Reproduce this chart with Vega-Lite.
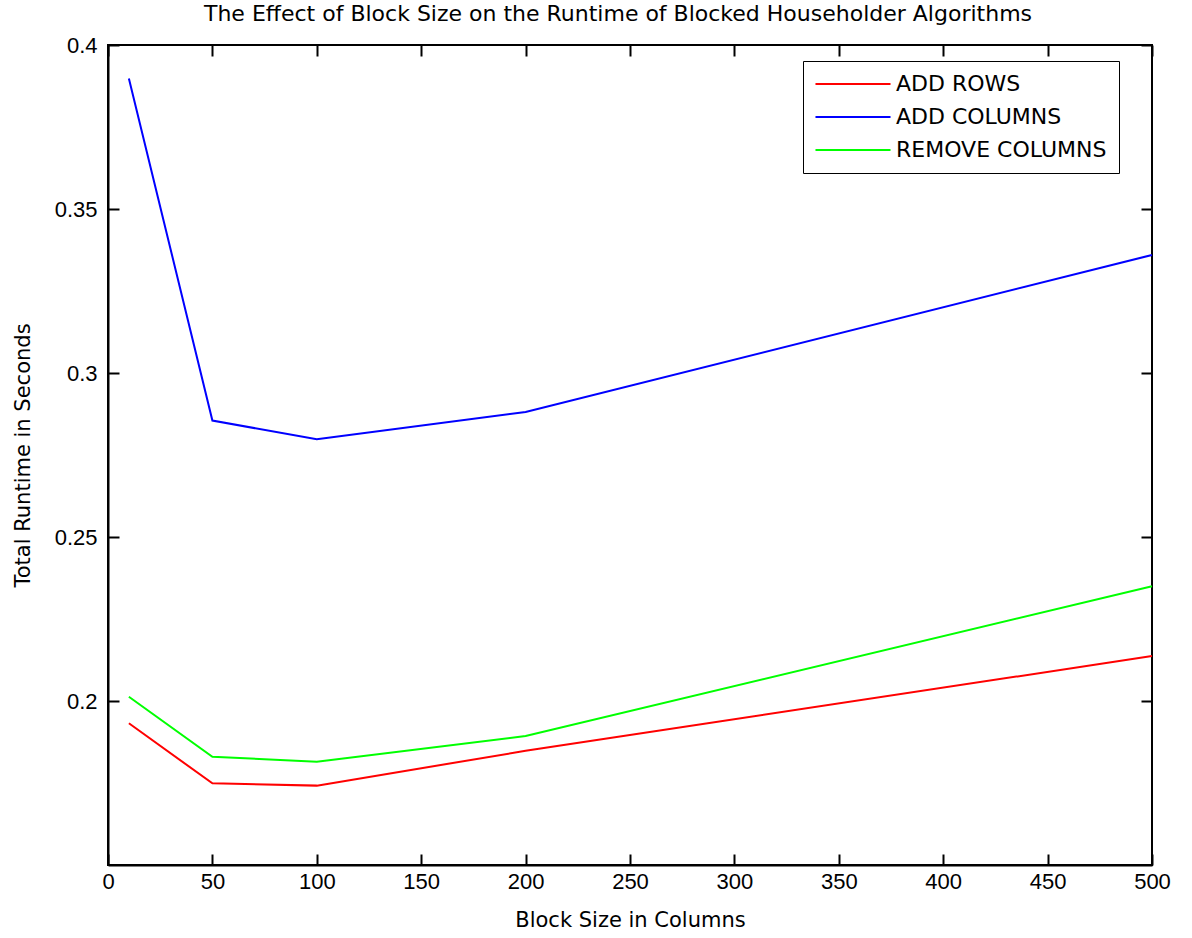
{
  "$schema": "https://vega.github.io/schema/vega-lite/v6.json",
  "autosize": "none",
  "width": 1044,
  "height": 820,
  "padding": {"left": 108, "top": 45, "right": 40, "bottom": 73},
  "background": "white",
  "title": {
    "text": "The Effect of Block Size on the Runtime of Blocked Householder Algorithms",
    "font": "DejaVu Sans",
    "fontSize": 22,
    "fontWeight": "normal",
    "color": "black",
    "anchor": "middle",
    "offset": 8,
    "dx": -12
  },
  "config": {
    "view": {"stroke": "black", "strokeWidth": 2},
    "axis": {
      "domainColor": "black",
      "domainWidth": 2,
      "tickColor": "black",
      "tickWidth": 2,
      "tickSize": -11,
      "grid": false,
      "labelFont": "Liberation Sans",
      "labelFontSize": 22,
      "labelColor": "black",
      "titleFont": "DejaVu Sans",
      "titleFontSize": 21,
      "titleFontWeight": "normal",
      "titleColor": "black"
    }
  },
  "data": {
    "values": [
      {"block": 10, "runtime": 0.1932, "series": "ADD ROWS"},
      {"block": 50, "runtime": 0.1749, "series": "ADD ROWS"},
      {"block": 100, "runtime": 0.1742, "series": "ADD ROWS"},
      {"block": 200, "runtime": 0.1848, "series": "ADD ROWS"},
      {"block": 500, "runtime": 0.2137, "series": "ADD ROWS"},
      {"block": 10, "runtime": 0.3898, "series": "ADD COLUMNS"},
      {"block": 50, "runtime": 0.2855, "series": "ADD COLUMNS"},
      {"block": 100, "runtime": 0.2798, "series": "ADD COLUMNS"},
      {"block": 200, "runtime": 0.2881, "series": "ADD COLUMNS"},
      {"block": 500, "runtime": 0.336, "series": "ADD COLUMNS"},
      {"block": 10, "runtime": 0.2013, "series": "REMOVE COLUMNS"},
      {"block": 50, "runtime": 0.183, "series": "REMOVE COLUMNS"},
      {"block": 100, "runtime": 0.1815, "series": "REMOVE COLUMNS"},
      {"block": 200, "runtime": 0.1893, "series": "REMOVE COLUMNS"},
      {"block": 500, "runtime": 0.235, "series": "REMOVE COLUMNS"}
    ]
  },
  "layer": [
    {
      "mark": {"type": "line", "strokeWidth": 2},
      "encoding": {
        "x": {
          "field": "block",
          "type": "quantitative",
          "scale": {"domain": [0, 500], "nice": false, "zero": false},
          "axis": {
            "values": [0, 50, 100, 150, 200, 250, 300, 350, 400, 450, 500],
            "title": "Block Size in Columns",
            "titlePadding": 17,
            "labelPadding": 17,
            "labelFlush": false
          }
        },
        "y": {
          "field": "runtime",
          "type": "quantitative",
          "scale": {"domain": [0.15, 0.4], "nice": false, "zero": false},
          "axis": {
            "values": [0.2, 0.25, 0.3, 0.35, 0.4],
            "format": ".2~f",
            "title": "Total Runtime in Seconds",
            "titlePadding": 21,
            "labelPadding": 22,
            "labelFlush": false
          }
        },
        "color": {
          "field": "series",
          "type": "nominal",
          "sort": ["ADD ROWS", "ADD COLUMNS", "REMOVE COLUMNS"],
          "scale": {
            "domain": ["ADD ROWS", "ADD COLUMNS", "REMOVE COLUMNS"],
            "range": ["#ff0000", "#0000ff", "#00ff00"]
          },
          "legend": {
            "title": null,
            "orient": "none",
            "legendX": 695,
            "legendY": 16,
            "strokeColor": "black",
            "fillColor": "white",
            "padding": 12,
            "symbolType": "M-4,0H4",
            "symbolSize": 352,
            "symbolOffset": 27,
            "symbolStrokeWidth": 2,
            "labelFont": "DejaVu Sans",
            "labelFontSize": 22,
            "labelColor": "black",
            "labelLimit": 400,
            "rowPadding": 11,
            "labelOffset": 32
          }
        }
      }
    },
    {
      "mark": {"type": "line", "opacity": 0},
      "encoding": {
        "x": {
          "field": "block",
          "type": "quantitative",
          "axis": {
            "orient": "top",
            "values": [0, 50, 100, 150, 200, 250, 300, 350, 400, 450, 500],
            "labels": false,
            "title": null,
            "domain": false
          }
        },
        "y": {
          "field": "runtime",
          "type": "quantitative",
          "axis": {
            "orient": "right",
            "values": [0.2, 0.25, 0.3, 0.35, 0.4],
            "labels": false,
            "title": null,
            "domain": false
          }
        },
        "detail": {"field": "series"}
      }
    }
  ],
  "resolve": {"axis": {"x": "independent", "y": "independent"}}
}
